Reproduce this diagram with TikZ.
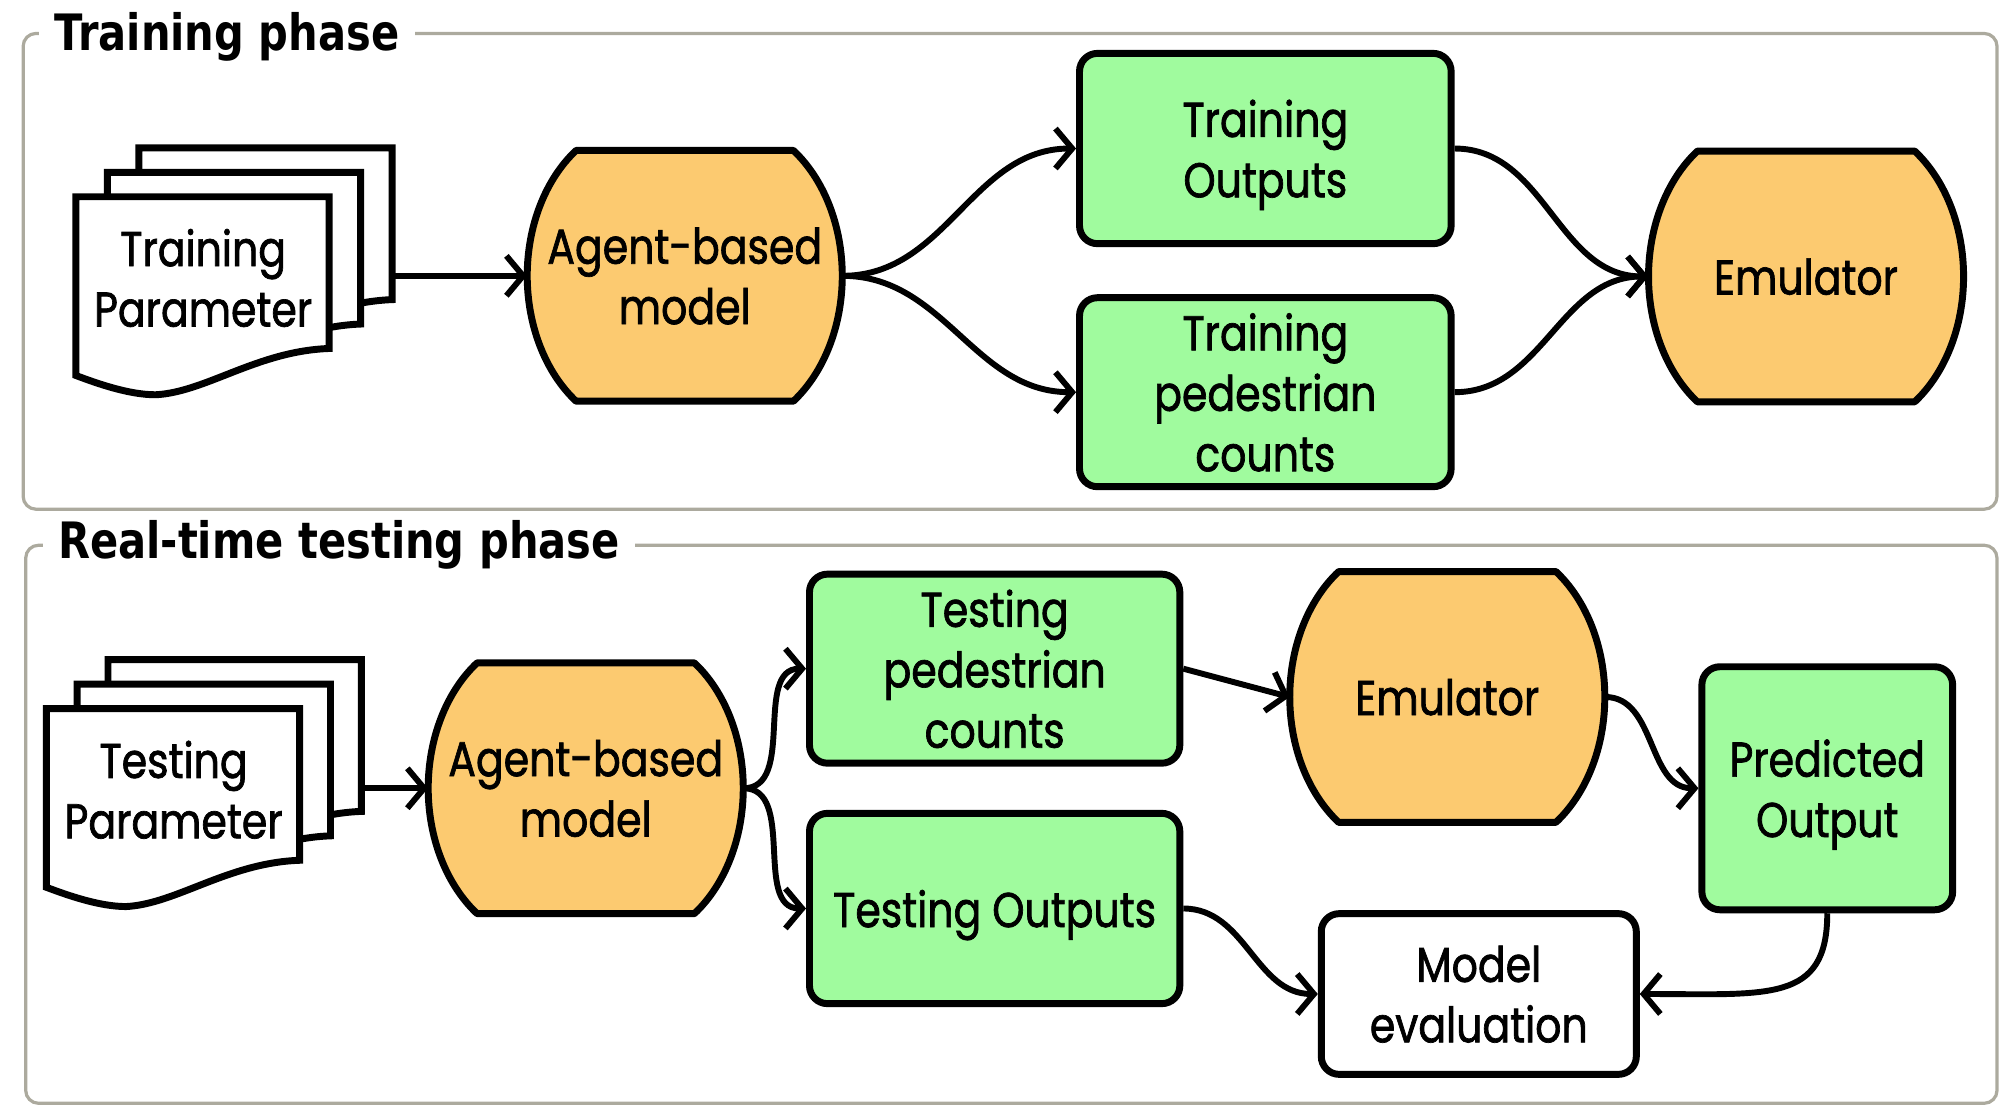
\documentclass[tikz,border=0pt]{standalone}
\usepackage{fontspec}
\setmainfont{Poppins}[FakeStretch=0.84, FakeBold=1.4]
\newfontfamily\titlefont{DejaVu Sans}[FakeStretch=0.83]
\usetikzlibrary{arrows.meta}
\definecolor{boxgreen}{RGB}{160,251,158}
\definecolor{barrelorange}{RGB}{252,202,112}
\definecolor{framegray}{RGB}{172,170,158}
\tikzset{
  frame/.style={draw=framegray, line width=2.5pt, rounded corners=10pt},
  titlenode/.style={font=\titlefont\bfseries\fontsize{39}{45}\selectfont, anchor=base west, fill=white, inner xsep=12pt, inner ysep=2pt},
  bodytext/.style={font=\fontsize{38}{47}\selectfont, align=center, inner sep=0pt, text depth=0pt},
  barrelnode/.style={bodytext, minimum width=245pt, minimum height=195pt},
  greenbox/.style={bodytext, draw, line width=5.4pt, fill=boxgreen, rounded corners=14pt},
  whitebox/.style={bodytext, draw, line width=5.4pt, fill=white, rounded corners=14pt},
  docline/.style={draw, fill=white, line width=5.4pt, line join=miter},
  barrelline/.style={draw, fill=barrelorange, line width=5.4pt, line join=round},
  conn/.style={draw, line width=4.6pt, -{Straight Barb[length=13pt,width=31pt]}},
  docshape/.pic={\path[docline] (0,0) -- (197,0) -- (197,118) .. controls (141,120) and (101,152) .. (62,154) .. controls (41,154) and (16,145) .. (0,139) -- cycle;},
  barrelshape/.pic={\path[barrelline] (-84.5,-97.5) -- (84.5,-97.5) .. controls (108.4,-75) and (122.5,-38.7) .. (122.5,0) .. controls (122.5,38.7) and (108.4,75) .. (84.5,97.5) -- (-84.5,97.5) .. controls (-108.4,75) and (-122.5,38.7) .. (-122.5,0) .. controls (-122.5,-38.7) and (-108.4,-75) .. (-84.5,-97.5) -- cycle;}
}
\begin{document}
\begin{tikzpicture}[x=1pt,y=-1pt]
\useasboundingbox (0,0) rectangle (1560,869);
% frames
\draw[frame] (18,26) rectangle (1553,396);
\draw[frame] (20,424) rectangle (1553,858);
\node[titlenode] (t1) at (30,39) {Training phase};
\node[titlenode] (t2) at (33,434) {Real-time testing phase};

% ---------- training phase ----------
\pic at (108,115) {docshape};
\pic at (83.5,134) {docshape};
\pic at (59,153) {docshape};
\node[bodytext] (trparam) at (158,216) {Training\\Parameter};
\coordinate (trstack) at (305,214.5);

\pic at (532.5,214.5) {barrelshape};
\node[barrelnode] (abm1) at (532.5,214.5) {Agent-based\\model};
\pic at (1404.5,215) {barrelshape};
\node[barrelnode] (emu1) at (1404.5,215) {Emulator};

\node[greenbox, minimum width=289pt, minimum height=148pt] (tout) at (984,115.5) {Training\\Outputs};
\node[greenbox, minimum width=289pt, minimum height=147pt] (tped) at (984,305) {Training\\pedestrian\\counts};

\draw[conn] (trstack) -- (abm1.west);
\draw[conn] (abm1.east) to[out=0,in=180] (tout.west);
\draw[conn] (abm1.east) to[out=0,in=180] (tped.west);
\draw[conn] (tout.east) to[out=0,in=180] (emu1.west);
\draw[conn] (tped.east) to[out=0,in=180] (emu1.west);

% ---------- testing phase ----------
\pic at (84,513) {docshape};
\pic at (60,532) {docshape};
\pic at (36,551) {docshape};
\node[bodytext] (teparam) at (135,614) {Testing\\Parameter};
\coordinate (testack) at (281,613);

\pic at (455.5,613) {barrelshape};
\node[barrelnode] (abm2) at (455.5,613) {Agent-based\\model};
\pic at (1125.5,542) {barrelshape};
\node[barrelnode] (emu2) at (1125.5,542) {Emulator};

\node[greenbox, minimum width=288pt, minimum height=147pt] (teped) at (773.5,520) {Testing\\pedestrian\\counts};
\node[greenbox, minimum width=288pt, minimum height=148pt] (teout) at (773.5,706.5) {Testing Outputs};
\node[greenbox, minimum width=195pt, minimum height=189pt] (pred) at (1421,613) {Predicted\\Output};
\node[whitebox, minimum width=245pt, minimum height=125pt] (meval) at (1150,773) {Model\\evaluation};

\draw[conn] (testack) -- (abm2.west);
\draw[conn] (abm2.east) to[out=0,in=180] (teped.west);
\draw[conn] (abm2.east) to[out=0,in=180] (teout.west);
\draw[conn] (teped.east) -- (emu2.west);
\draw[conn] (emu2.east) to[out=0,in=180] (pred.west);
\draw[conn] (teout.east) to[out=0,in=180] (meval.west);
\draw[conn] (pred.south) .. controls +(0,70) and +(100,0) .. (meval.east);
\end{tikzpicture}
\end{document}
